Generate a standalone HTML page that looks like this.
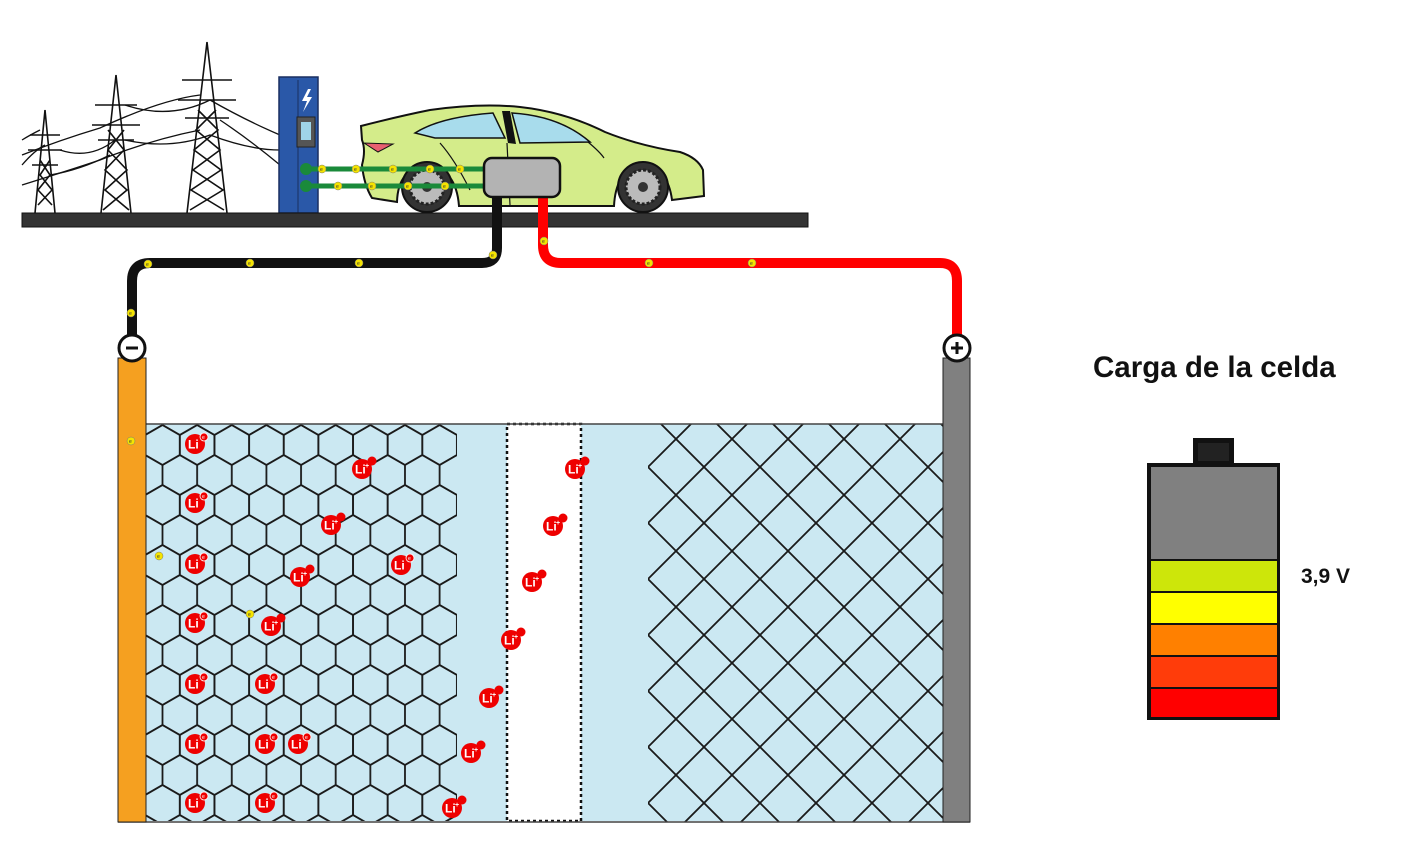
<!DOCTYPE html>
<html><head><meta charset="utf-8"><style>
html,body{margin:0;padding:0;background:#fff;width:1423px;height:847px;overflow:hidden;}
svg{display:block;}
text{font-family:"Liberation Sans",Arial,sans-serif;}
</style></head><body>
<svg width="1423" height="847" viewBox="0 0 1423 847" xmlns="http://www.w3.org/2000/svg">
<defs>
<pattern id="hex" patternUnits="userSpaceOnUse" width="34.64" height="60" x="162.5" y="445">
<g fill="none" stroke="#1a1a1a" stroke-width="1.8">
<polygon points="0,-20 17.32,-10 17.32,10 0,20 -17.32,10 -17.32,-10"/>
<polygon points="34.64,-20 51.96,-10 51.96,10 34.64,20 17.32,10 17.32,-10"/>
<polygon points="17.32,10 34.64,20 34.64,40 17.32,50 0,40 0,20"/>
<polygon points="0,40 17.32,50 17.32,70 0,80 -17.32,70 -17.32,50"/>
<polygon points="34.64,40 51.96,50 51.96,70 34.64,80 17.32,70 17.32,50"/>
</g>
</pattern>
<clipPath id="diaclip"><rect x="648" y="424" width="295" height="398"/></clipPath>
<g id="el"><circle r="4" fill="#f5e400" stroke="#777" stroke-width="0.5"/><text x="-2" y="2" font-size="5" fill="#333">e</text></g>
<g id="li"><circle r="10" fill="#ee0000"/><text x="-7" y="4.5" font-size="12" font-weight="bold" fill="#fff">Li</text><circle cx="9" cy="-7" r="4" fill="#ee0000" stroke="#fff" stroke-width="0.8"/><text x="7" y="-5" font-size="5" fill="#fff">e</text></g>
<g id="lip"><circle r="10" fill="#ee0000"/><text x="-7" y="4.5" font-size="12" font-weight="bold" fill="#fff">Li</text><text x="3" y="-1" font-size="7" font-weight="bold" fill="#fff">+</text><circle cx="10" cy="-8" r="4.5" fill="#ee0000"/></g>
</defs>

<!-- power lines -->
<g fill="none" stroke="#111" stroke-width="1.3">
<path d="M22,155 Q60,140 100,128 Q160,100 200,95"/>
<path d="M22,185 Q70,170 100,160 Q150,140 200,130"/>
<path d="M22,165 Q35,150 45,145"/>
<path d="M50,175 Q80,170 110,155"/>
<path d="M125,105 Q170,120 210,100 Q245,120 280,135"/>
<path d="M125,140 Q170,150 210,135 Q250,150 280,150"/>
<path d="M60,150 Q90,160 115,140"/>
<path d="M220,120 Q250,140 280,165"/>
<path d="M22,140 Q30,135 40,130"/>
</g>
<!-- pylons -->
<g fill="none" stroke="#111" stroke-width="1.6">
<path d="M45,110 L35,213 M45,110 L55,213 M40,160 L50,175 L38,190 L52,205 M50,160 L40,175 L52,190 L38,205"/>
<path d="M30,135 H60 M28,150 H62 M32,165 H58"/>
<path d="M116,75 L101,213 M116,75 L131,213 M108,130 L124,150 L105,170 L127,190 L103,210 M124,130 L108,150 L127,170 L105,190 L129,210"/>
<path d="M95,105 H137 M92,125 H140 M98,140 H134"/>
<path d="M207,42 L187,213 M207,42 L227,213 M198,110 L218,130 L194,150 L221,170 L191,190 L224,210 M216,110 L196,130 L220,150 L193,170 L223,190 L190,210"/>
<path d="M182,80 H232 M178,100 H236 M185,118 H229"/>
</g>
<!-- station -->
<rect x="279" y="77" width="39" height="136" fill="#2a58a8" stroke="#1a2f60" stroke-width="1.5"/>
<line x1="298" y1="80" x2="298" y2="213" stroke="#1a2f60" stroke-width="1"/>
<path d="M308,89 L302,101 L307,101 L303,112 L312,97 L307,97 L311,89Z" fill="#fff"/>
<rect x="297" y="117" width="18" height="30" fill="#555" stroke="#222"/>
<rect x="301" y="122" width="10" height="18" fill="#9fd4e8"/>
<!-- car -->
<path d="M361,126 Q400,116 430,110 Q480,103 520,107 Q565,112 605,132 Q640,146 680,152 Q698,158 703,170 L704,196 L672,200 Q668,168 643,166 Q616,168 614,206 L459,206 Q456,168 427,166 Q398,168 397,202 L372,198 Q364,185 362,165 Q366,150 362,140 Z" fill="#d4ec8a" stroke="#111" stroke-width="2"/>
<path d="M415,133 Q440,117 493,113 L505,138 L435,138Z" fill="#a8dcec" stroke="#111" stroke-width="1.5"/>
<path d="M512,113 Q560,116 590,142 L520,143Z" fill="#a8dcec" stroke="#111" stroke-width="1.5"/>
<path d="M502,111 L508,143 L516,144 L510,111Z" fill="#111"/>
<path d="M364,143 L378,152 L393,144 Z" fill="#e86070" stroke="#111"/>
<path d="M440,143 Q455,160 470,190 M507,143 L510,205 M588,142 Q600,152 604,158" fill="none" stroke="#111" stroke-width="1.2"/>
<circle cx="427" cy="187" r="25" fill="#333" stroke="#111" stroke-width="2"/>
<circle cx="427" cy="187" r="17" fill="#bbb" stroke="#222" stroke-width="3" stroke-dasharray="3 2"/>
<circle cx="427" cy="187" r="5" fill="#333"/>
<circle cx="643" cy="187" r="25" fill="#333" stroke="#111" stroke-width="2"/>
<circle cx="643" cy="187" r="17" fill="#bbb" stroke="#222" stroke-width="3" stroke-dasharray="3 2"/>
<circle cx="643" cy="187" r="5" fill="#333"/>
<!-- green cables -->
<line x1="305" y1="169" x2="486" y2="169" stroke="#1a8a3a" stroke-width="5"/>
<line x1="305" y1="186" x2="486" y2="186" stroke="#1a8a3a" stroke-width="5"/>
<circle cx="306" cy="169" r="6" fill="#1a8a3a"/><circle cx="306" cy="186" r="6" fill="#1a8a3a"/>
<use href="#el" x="322" y="169"/><use href="#el" x="356" y="169"/><use href="#el" x="393" y="169"/><use href="#el" x="430" y="169"/><use href="#el" x="460" y="169"/>
<use href="#el" x="338" y="186"/><use href="#el" x="372" y="186"/><use href="#el" x="408" y="186"/><use href="#el" x="445" y="186"/>
<!-- ground -->
<rect x="22" y="213" width="786" height="14" fill="#333" stroke="#111"/>
<!-- wires -->
<path d="M497,197 L497,248 Q497,263 482,263 L150,263 Q132,263 132,281 L132,336" fill="none" stroke="#111" stroke-width="10"/>
<path d="M543,197 L543,245 Q543,263 561,263 L940,263 Q957,263 957,281 L957,336" fill="none" stroke="#ff0000" stroke-width="10"/>
<rect x="484" y="158" width="76" height="39" rx="8" fill="#b3b3b3" stroke="#111" stroke-width="2.5"/>
<use href="#el" x="148" y="264"/><use href="#el" x="250" y="263"/><use href="#el" x="359" y="263"/><use href="#el" x="131" y="313"/><use href="#el" x="493" y="255"/>
<use href="#el" x="544" y="241"/><use href="#el" x="649" y="263"/><use href="#el" x="752" y="263"/>
<!-- cell -->
<rect x="146" y="424" width="797" height="397" fill="#cbe8f2"/>
<rect x="146" y="424" width="311" height="397" fill="url(#hex)"/>
<g clip-path="url(#diaclip)" stroke="#1a1a1a" stroke-width="1.8" fill="none">
<path d="M169,380 L649,860 M225,380 L705,860 M281,380 L761,860 M337,380 L817,860 M393,380 L873,860 M449,380 L929,860 M505,380 L985,860 M561,380 L1041,860 M617,380 L1097,860 M673,380 L1153,860 M729,380 L1209,860 M785,380 L1265,860 M841,380 L1321,860 M897,380 L1377,860"/>
<path d="M679,380 L199,860 M735,380 L255,860 M791,380 L311,860 M847,380 L367,860 M903,380 L423,860 M959,380 L479,860 M1015,380 L535,860 M1071,380 L591,860 M1127,380 L647,860 M1183,380 L703,860 M1239,380 L759,860 M1295,380 L815,860 M1351,380 L871,860 M1407,380 L927,860"/>
</g>
<rect x="507" y="424" width="74" height="397" fill="#fff" stroke="#111" stroke-width="2.5" stroke-dasharray="3 3"/>
<line x1="146" y1="424" x2="943" y2="424" stroke="#444" stroke-width="1.5"/>
<line x1="118" y1="822" x2="970" y2="822" stroke="#444" stroke-width="1.5"/>
<rect x="118" y="358" width="28" height="464" fill="#f5a020" stroke="#222" stroke-width="1"/>
<rect x="943" y="358" width="27" height="464" fill="#808080" stroke="#222" stroke-width="1"/>
<circle cx="132" cy="348" r="13" fill="#fff" stroke="#111" stroke-width="3"/>
<rect x="126" y="346.5" width="12" height="3" fill="#111"/>
<circle cx="957" cy="348" r="13" fill="#fff" stroke="#111" stroke-width="3"/>
<rect x="951" y="346.5" width="12" height="3" fill="#111"/><rect x="955.5" y="342" width="3" height="12" fill="#111"/>
<use href="#el" x="131" y="441"/><use href="#el" x="159" y="556"/><use href="#el" x="250" y="614"/>
<!-- Li atoms -->
<use href="#li" x="195" y="444"/><use href="#li" x="195" y="503"/><use href="#li" x="195" y="564"/><use href="#li" x="195" y="623"/><use href="#li" x="195" y="684"/><use href="#li" x="195" y="744"/><use href="#li" x="195" y="803"/>
<use href="#li" x="265" y="684"/><use href="#li" x="265" y="744"/><use href="#li" x="265" y="803"/><use href="#li" x="298" y="744"/><use href="#li" x="401" y="565"/>
<use href="#lip" x="362" y="469"/><use href="#lip" x="331" y="525"/><use href="#lip" x="300" y="577"/><use href="#lip" x="271" y="626"/>
<use href="#lip" x="575" y="469"/><use href="#lip" x="553" y="526"/><use href="#lip" x="532" y="582"/><use href="#lip" x="511" y="640"/><use href="#lip" x="489" y="698"/><use href="#lip" x="471" y="753"/><use href="#lip" x="452" y="808"/>
<!-- battery -->
<text x="1093" y="377" font-size="29.5" font-weight="bold" fill="#111">Carga de la celda</text>
<rect x="1193" y="438" width="41" height="25" fill="#111"/>
<rect x="1198" y="443" width="31" height="18" fill="#222"/>
<rect x="1147" y="463" width="133" height="257" fill="#111"/>
<rect x="1151" y="467" width="126" height="92" fill="#808080"/>
<rect x="1151" y="561" width="126" height="30" fill="#cde60a"/>
<rect x="1151" y="593" width="126" height="30" fill="#ffff00"/>
<rect x="1151" y="625" width="126" height="30" fill="#ff8000"/>
<rect x="1151" y="657" width="126" height="30" fill="#ff3c0a"/>
<rect x="1151" y="689" width="126" height="28" fill="#ff0000"/>
<text x="1301" y="583" font-size="21" font-weight="bold" fill="#111">3,9 V</text>
</svg>
</body></html>
